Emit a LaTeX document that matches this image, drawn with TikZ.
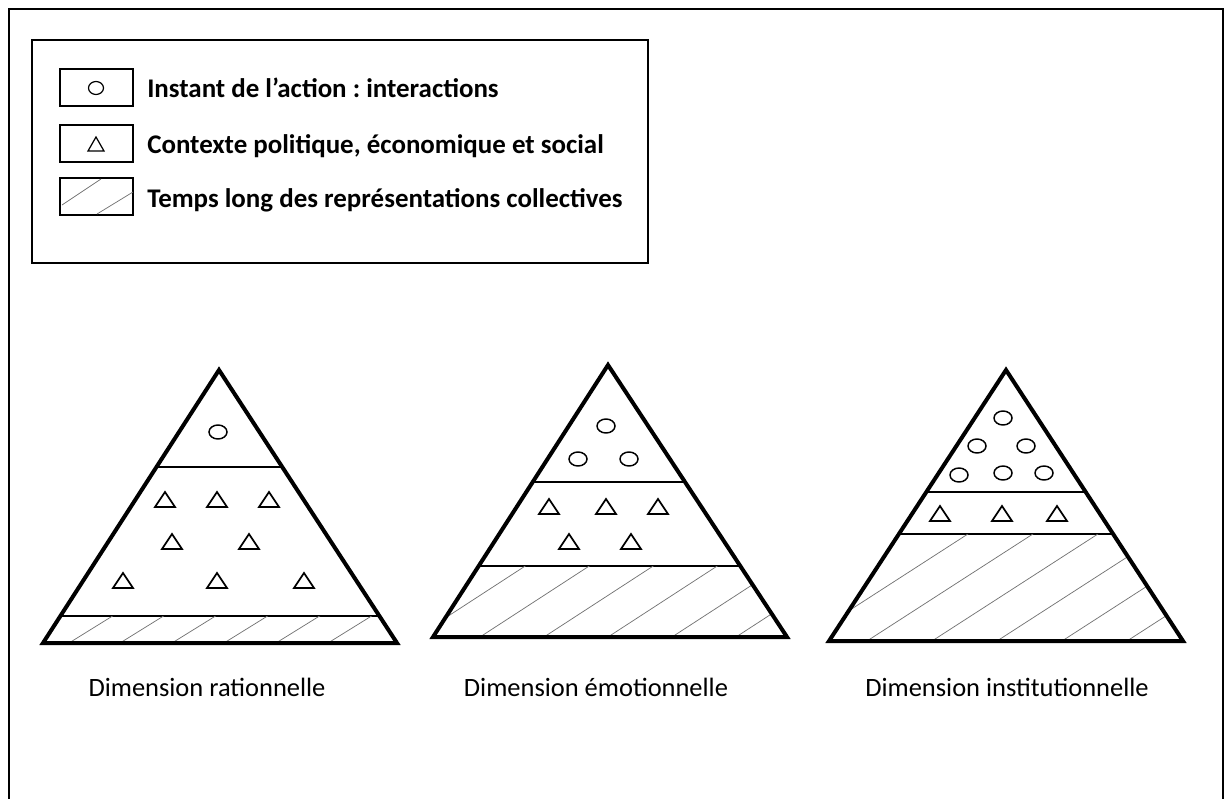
\documentclass[tikz,border=0pt]{standalone}
\usepackage{fontspec}
\setmainfont{Carlito}
\frenchspacing
\begin{document}
\begin{tikzpicture}[x=0.75pt,y=-0.75pt,
  frame/.style={line width=1.5pt},
  keybox/.style={draw,line width=0.9pt},
  pyr/.style={line width=3pt,line join=miter},
  band/.style={line width=1.5pt},
  hatch/.style={line width=0.55pt,black!55},
  mark/.style={line width=1.2pt},
  legtext/.style={anchor=base west,inner sep=0pt,font=\fontsize{20.2}{24}\selectfont\bfseries},
  captext/.style={anchor=base,inner sep=0pt,font=\fontsize{19.85}{24}\selectfont},
  tri/.pic={\draw[line width=1.3pt,line join=miter] (-10,0)--(0,-15)--(10,0)--cycle;},
  ring/.pic={\draw[line width=1.1pt] (0,0) ellipse [x radius=9,y radius=7];}
]
\useasboundingbox (0,0) rectangle (1224,799);
% outer frame
\draw[frame] (9,830) -- (9,9) -- (1223,9) -- (1223,830);
% legend
\draw[frame] (32,40) rectangle (648,263);
\draw[keybox] (60,69) rectangle (133,106);
\draw[keybox] (60,125) rectangle (133,162);
\draw[keybox] (60,178) rectangle (133,215);
\draw[line width=0.9pt] (96,88) ellipse [x radius=7.5,y radius=6.5];
\draw[line width=0.9pt,line join=miter] (88,151) -- (96,137) -- (104,151) -- cycle;
\begin{scope}
  \clip (60,178) rectangle (133,215);
  \draw[hatch] (62,205) -- (101,179);
  \draw[hatch] (97,214) -- (133,192);
\end{scope}
\node[legtext] (l1) at (147,98) {Instant de l’action : interactions};
\node[legtext] (l2) at (147,153) {Contexte politique, économique et social};
\node[legtext] (l3) at (147,207) {Temps long des représentations collectives};

% ---------- Pyramid 1 ----------
\coordinate (a1) at (219,370);
\coordinate (b1) at (43,643);
\coordinate (c1) at (397,643);
\begin{scope}
  \clip (a1) -- (b1) -- (c1) -- cycle;
  \draw[band] (0,467) -- (1224,467);
  \draw[band] (0,616) -- (1224,616);
  \clip (0,616) rectangle (1224,643);
  \foreach \x in {69,120,172,224,276,328}
    \draw[hatch] (\x,643) -- ++(80,-49.6);
\end{scope}
\draw[pyr] (a1) -- (b1) -- (c1) -- cycle;
\pic at (218,432) {ring};
\foreach \x in {165,217,269} \pic at (\x,507) {tri};
\foreach \x in {172,249} \pic at (\x,549) {tri};
\foreach \x in {123,217,304} \pic at (\x,588) {tri};

% ---------- Pyramid 2 ----------
\coordinate (a2) at (608,365);
\coordinate (b2) at (433,637);
\coordinate (c2) at (787,637);
\begin{scope}
  \clip (a2) -- (b2) -- (c2) -- cycle;
  \draw[band] (0,482) -- (1224,482);
  \draw[band] (0,566) -- (1224,566);
  \clip (0,566) rectangle (1224,637);
  \foreach \x in {416,480,544,608,672,736}
    \draw[hatch] (\x,637) -- ++(150,-97.5);
\end{scope}
\draw[pyr] (a2) -- (b2) -- (c2) -- cycle;
\pic at (606,426) {ring};
\pic at (578,459) {ring};
\pic at (629,459) {ring};
\foreach \x in {549,606,658} \pic at (\x,514) {tri};
\foreach \x in {569,631} \pic at (\x,549) {tri};

% ---------- Pyramid 3 ----------
\coordinate (a3) at (1006,370);
\coordinate (b3) at (829,641);
\coordinate (c3) at (1183,641);
\begin{scope}
  \clip (a3) -- (b3) -- (c3) -- cycle;
  \draw[band] (0,492) -- (1224,492);
  \draw[band] (0,534) -- (1224,534);
  \clip (0,534) rectangle (1224,641);
  \foreach \x in {802,867,932,997,1062,1127}
    \draw[hatch] (\x,641) -- ++(200,-129);
\end{scope}
\draw[pyr] (a3) -- (b3) -- (c3) -- cycle;
\pic at (1003,418) {ring};
\pic at (977,446) {ring};
\pic at (1026,446) {ring};
\pic at (959,475) {ring};
\pic at (1003,473) {ring};
\pic at (1044,473) {ring};
\foreach \x in {940,1002,1057} \pic at (\x,521) {tri};

% captions
\node[captext] (d1) at (207,696) {Dimension rationnelle};
\node[captext] (d2) at (596,696) {Dimension émotionnelle};
\node[captext] (d3) at (1007,696) {Dimension institutionnelle};
\end{tikzpicture}
\end{document}
